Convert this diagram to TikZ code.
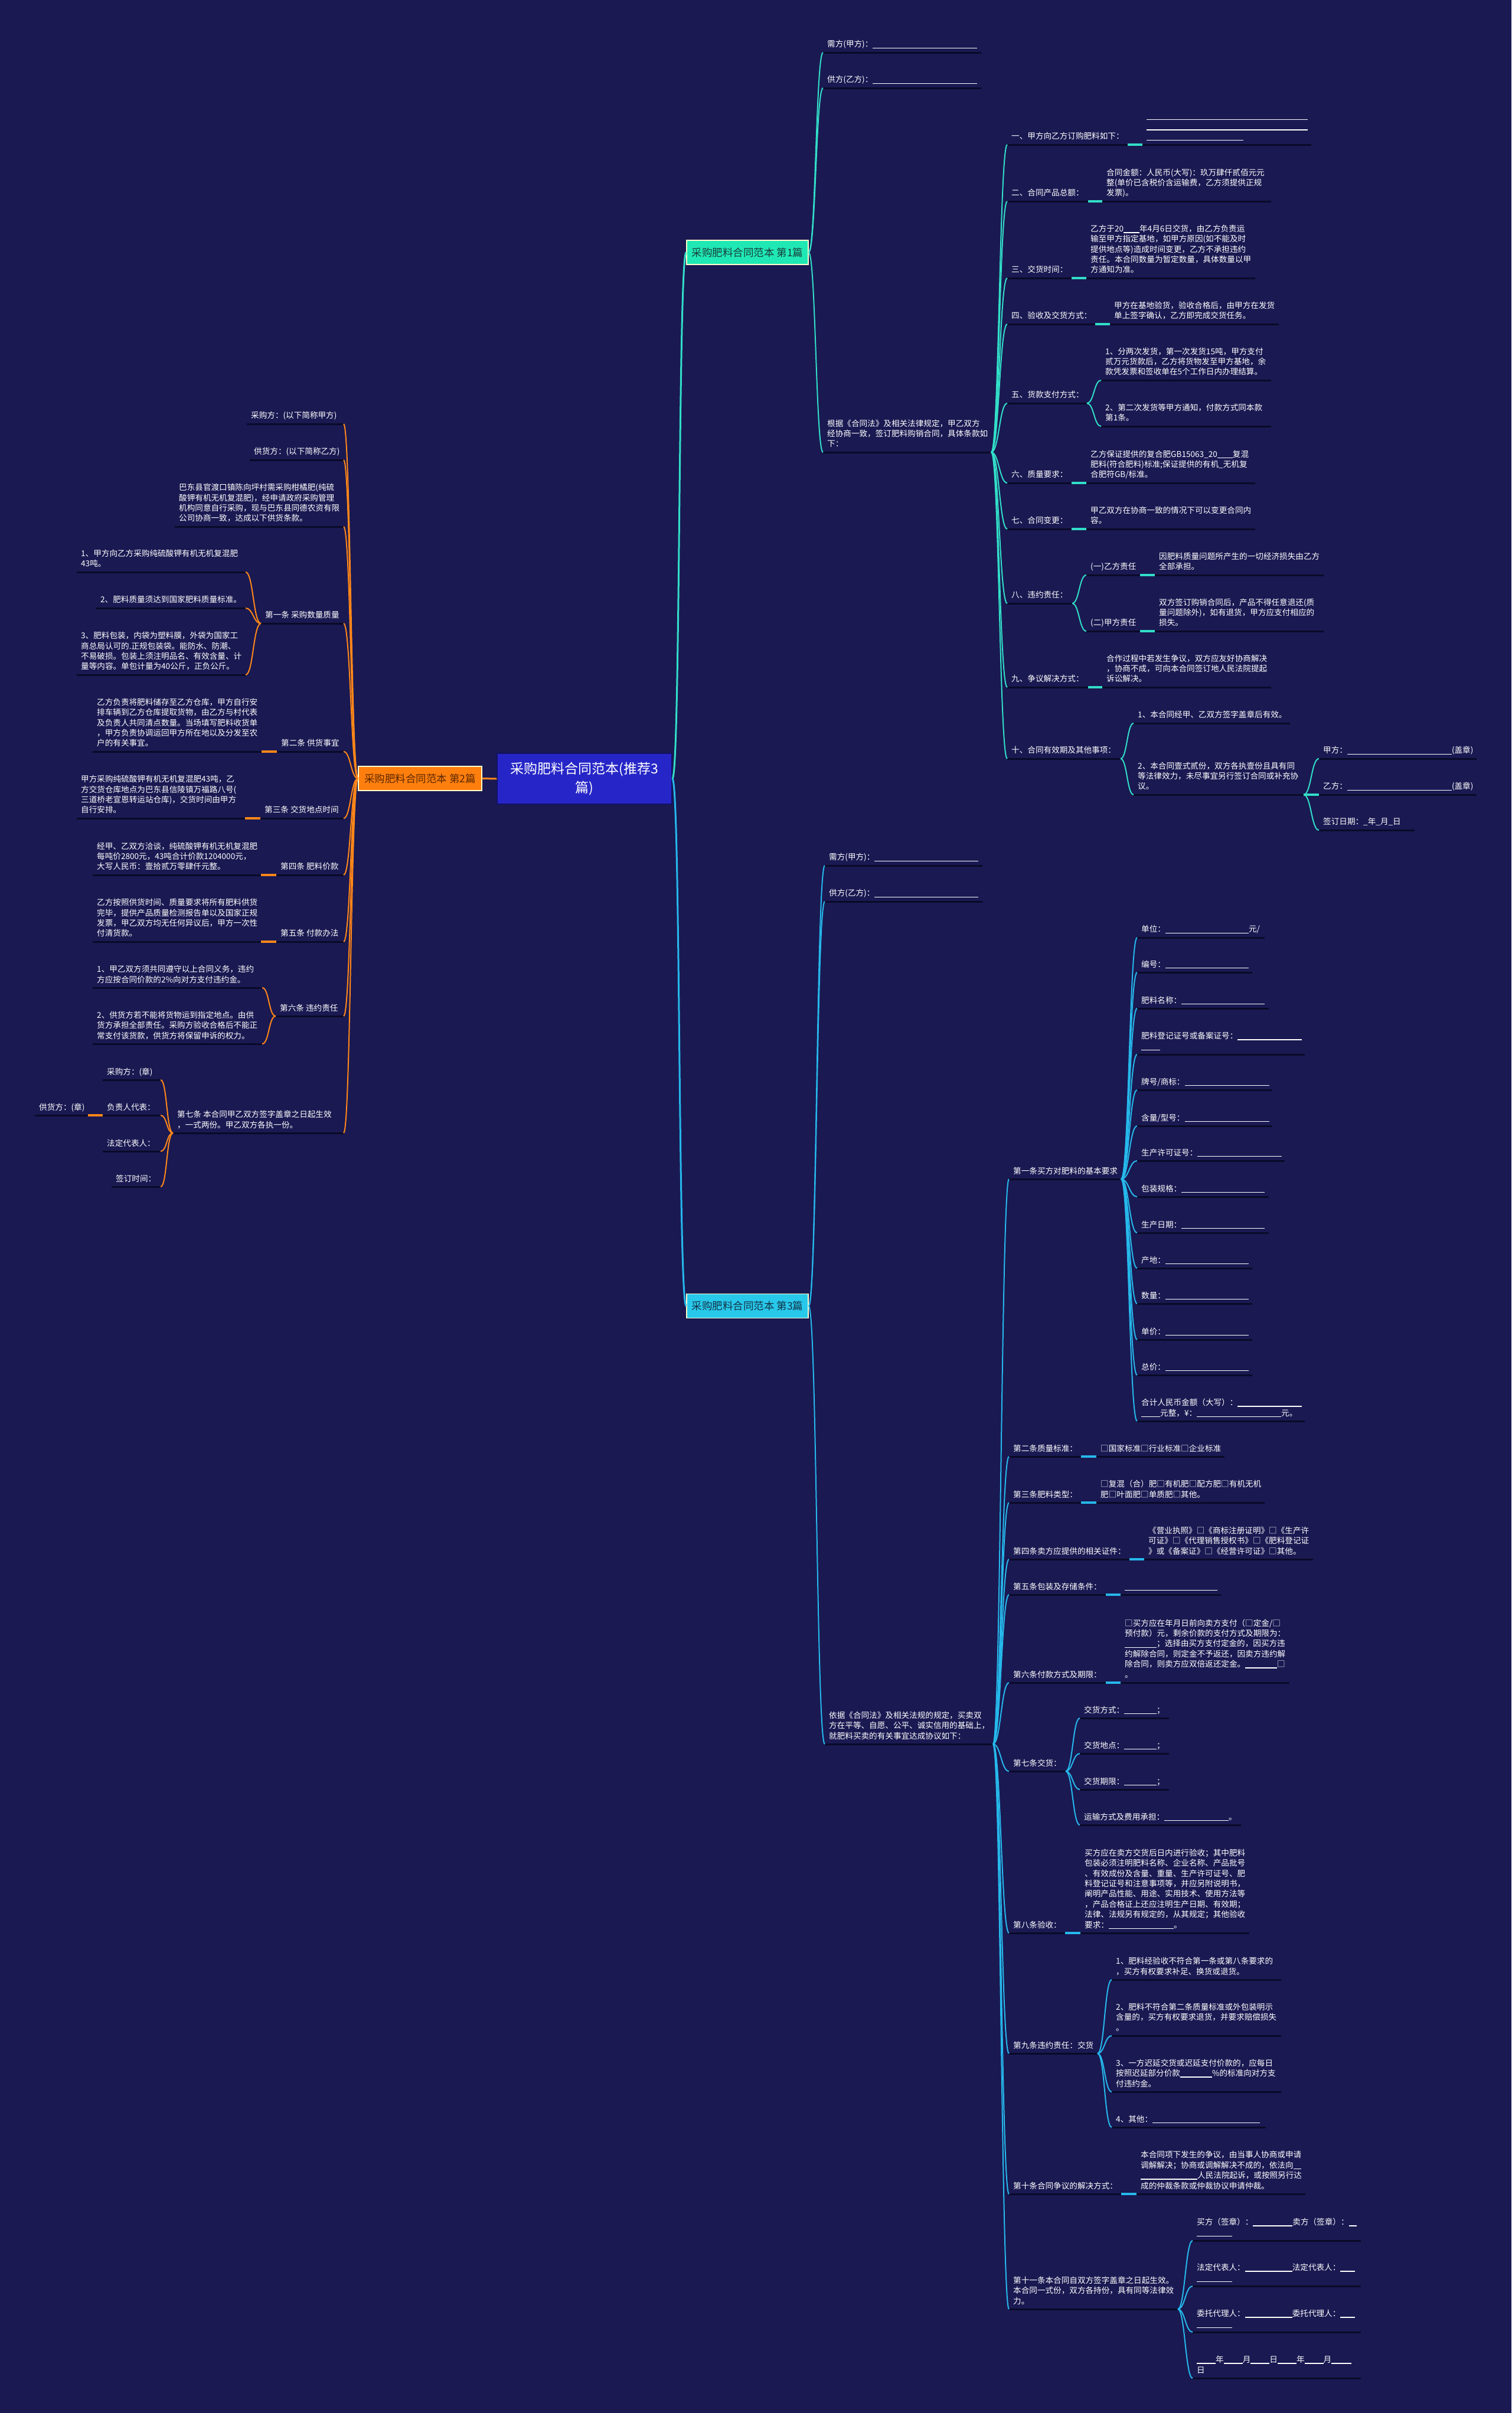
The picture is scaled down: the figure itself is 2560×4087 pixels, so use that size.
\documentclass[tikz,border=0pt]{standalone}
\usepackage{fontspec}
\setmainfont{Noto Sans CJK SC}
\usetikzlibrary{calc}
\definecolor{bgc}{RGB}{26,25,82}
\definecolor{rootc}{RGB}{38,38,200}
\definecolor{rootb}{RGB}{18,18,100}
\definecolor{c1fill}{RGB}{32,232,180}
\definecolor{c1line}{RGB}{50,222,200}
\definecolor{c2fill}{RGB}{255,127,14}
\definecolor{c2line}{RGB}{255,135,25}
\definecolor{c3fill}{RGB}{40,200,235}
\definecolor{c3line}{RGB}{38,184,235}
\definecolor{ulc}{RGB}{10,10,40}
\definecolor{c1text}{RGB}{25,60,60}
\definecolor{c2text}{RGB}{90,40,0}
\definecolor{c3text}{RGB}{20,50,70}
\newcommand\bl[1]{\rule[-2.2pt]{#1pt}{1.4pt}}
\newcommand\LNode[5]{%
  \draw[uline] (#2,#4) -- (#3,#4);
  \coordinate (#1-l) at (#2,#4);
  \coordinate (#1-r) at (#3,#4);
  \node[leaf,anchor=south west] (#1) at ({#2+7},{#4-3.6}) {#5};}
\newcommand\LConn[5]{\draw[#1] (#2) .. controls +(#4,0) and +(#5,0) .. (#3);}
\tikzset{
  leaf/.style={inner sep=0pt, align=left, text=white, font=\fontsize{13.6}{17.4}\selectfont, execute at end node=\strut},
  uline/.style={draw=ulc, line width=3pt},
  bbox/.style={draw=white!80!yellow, line width=1.2pt, minimum height=41pt, inner sep=0pt, font=\fontsize{17.5}{20}\selectfont},
  rootbox/.style={fill=rootc, draw=rootb, line width=1.5pt, minimum width=296pt, minimum height=86pt, inner sep=0pt, align=center, text=white, font=\fontsize{23}{32}\selectfont},
  m1/.style={draw=c1line, line width=3pt},
  m2/.style={draw=c2line, line width=3pt},
  m3/.style={draw=c3line, line width=3pt},
  l1/.style={draw=c1line, line width=2pt},
  l2/.style={draw=c2line, line width=2pt},
  l3/.style={draw=c3line, line width=2pt},
  t1/.style={draw=c1line, line width=3.5pt},
  t2/.style={draw=c2line, line width=3.5pt},
  t3/.style={draw=c3line, line width=3.5pt},
}
\begin{document}
\begin{tikzpicture}[x=1pt,y=-1pt]
\fill[bgc] (0,0) rectangle (2560,4087);
\useasboundingbox (0,0) rectangle (2560,4087);

% ---------- root and branch boxes ----------
\node[rootbox] (root) at (990,1319) {采购肥料合同范本(推荐3\\篇)};
\node[bbox, fill=c1fill, text=c1text, minimum width=206pt] (B1) at (1266,427.5) {采购肥料合同范本 第1篇};
\node[bbox, fill=c2fill, text=c2text, minimum width=209pt] (B2) at (711.5,1318.5) {采购肥料合同范本 第2篇};
\node[bbox, fill=c3fill, text=c3text, minimum width=206pt] (B3) at (1266,2212) {采购肥料合同范本 第3篇};

% ---------- branch 1 ----------
\LNode{a1}{1394}{1662}{89}{需方(甲方)：\bl{177}}
\LNode{a2}{1394}{1662}{149}{供方(乙方)：\bl{177}}
\LNode{a3}{1394}{1679}{766}{根据《合同法》及相关法律规定，甲乙双方\\经协商一致，签订肥料购销合同，具体条款如\\下：}
\LNode{a31}{1706}{1910}{245}{一、甲方向乙方订购肥料如下：}
\LNode{a31c}{1935}{2221}{245}{\bl{273}\\\bl{273}\\\bl{164}}
\LNode{a32}{1706}{1843}{341}{二、合同产品总额：}
\LNode{a32c}{1867}{2153}{341}{合同金额：人民币(大写)：玖万肆仟贰佰元元\\整(单价已含税价含运输费，乙方须提供正规\\发票)。}
\LNode{a33}{1706}{1815}{471}{三、交货时间：}
\LNode{a33c}{1840}{2126}{471}{乙方于20\bl{27}年4月6日交货，由乙方负责运\\输至甲方指定基地，如甲方原因(如不能及时\\提供地点等)造成时间变更，乙方不承担违约\\责任。本合同数量为暂定数量，具体数量以甲\\方通知为准。}
\LNode{a34}{1706}{1855}{549}{四、验收及交货方式：}
\LNode{a34c}{1880}{2166}{549}{甲方在基地验货，验收合格后，由甲方在发货\\单上签字确认，乙方即完成交货任务。}
\LNode{a35}{1706}{1841}{683}{五、货款支付方式：}
\LNode{a351}{1865}{2153}{644}{1、分两次发货，第一次发货15吨，甲方支付\\贰万元货款后，乙方将货物发至甲方基地，余\\款凭发票和签收单在5个工作日内办理结算。}
\LNode{a352}{1865}{2153}{722}{2、第二次发货等甲方通知，付款方式同本款\\第1条。}
\LNode{a36}{1706}{1815}{818}{六、质量要求：}
\LNode{a36c}{1840}{2126}{818}{乙方保证提供的复合肥GB15063\_20\bl{26}复混\\肥料(符合肥料)标准;保证提供的有机\_无机复\\合肥符GB/标准。}
\LNode{a37}{1706}{1815}{896}{七、合同变更：}
\LNode{a37c}{1840}{2126}{896}{甲乙双方在协商一致的情况下可以变更合同内\\容。}
\LNode{a38}{1706}{1816}{1022}{八、违约责任：}
\LNode{a381}{1840}{1931}{974}{(一)乙方责任}
\LNode{a381c}{1956}{2242}{974}{因肥料质量问题所产生的一切经济损失由乙方\\全部承担。}
\LNode{a382}{1840}{1931}{1069}{(二)甲方责任}
\LNode{a382c}{1956}{2242}{1069}{双方签订购销合同后，产品不得任意退还(质\\量问题除外)，如有退货，甲方应支付相应的\\损失。}
\LNode{a39}{1706}{1843}{1164}{九、争议解决方式：}
\LNode{a39c}{1867}{2153}{1164}{合作过程中若发生争议，双方应友好协商解决\\，协商不成，可向本合同签订地人民法院提起\\诉讼解决。}
\LNode{a310}{1706}{1898}{1285}{十、合同有效期及其他事项：}
\LNode{a3101}{1920}{2185}{1225}{1、本合同经甲、乙双方签字盖章后有效。}
\LNode{a3102}{1920}{2208}{1346}{2、本合同壹式贰份，双方各执壹份且具有同\\等法律效力，未尽事宜另行签订合同或补充协\\议。}
\LNode{a31021}{2234}{2501}{1285}{甲方：\bl{177}(盖章)}
\LNode{a31022}{2234}{2501}{1346}{乙方：\bl{177}(盖章)}
\LNode{a31023}{2234}{2396}{1406}{签订日期：\_年\_月\_日}

% ---------- branch 2 ----------
\LNode{b1}{418}{582}{718}{采购方：(以下简称甲方)}
\LNode{b2}{423}{582}{779}{供货方：(以下简称乙方)}
\LNode{b3}{296}{582}{892}{巴东县官渡口镇陈向坪村需采购柑橘肥(纯硫\\酸钾有机无机复混肥)，经申请政府采购管理\\机构同意自行采购，现与巴东县同德农资有限\\公司协商一致，达成以下供货条款。}
\LNode{b4}{442}{582}{1056}{第一条 采购数量质量}
\LNode{b41}{130}{416}{969}{1、甲方向乙方采购纯硫酸钾有机无机复混肥\\43吨。}
\LNode{b42}{163}{416}{1030}{2、肥料质量须达到国家肥料质量标准。}
\LNode{b43}{130}{416}{1143}{3、肥料包装，内袋为塑料膜，外袋为国家工\\商总局认可的.正规包装袋。能防水、防潮、\\不易破损。包装上须注明品名、有效含量、计\\量等内容。单包计量为40公斤，正负公斤。}
\LNode{b5}{469}{582}{1273}{第二条 供货事宜}
\LNode{b5c}{157}{443}{1273}{乙方负责将肥料储存至乙方仓库，甲方自行安\\排车辆到乙方仓库提取货物，由乙方与村代表\\及负责人共同清点数量。当场填写肥料收货单\\，甲方负责协调运回甲方所在地以及分发至农\\户的有关事宜。}
\LNode{b6}{441}{582}{1386}{第三条 交货地点时间}
\LNode{b6c}{130}{415}{1386}{甲方采购纯硫酸钾有机无机复混肥43吨，乙\\方交货仓库地点为巴东县信陵镇万福路八号(\\三道桥老宣恩转运站仓库)，交货时间由甲方\\自行安排。}
\LNode{b7}{468}{582}{1482}{第四条 肥料价款}
\LNode{b7c}{157}{442}{1482}{经甲、乙双方洽谈，纯硫酸钾有机无机复混肥\\每吨价2800元，43吨合计价款1204000元，\\大写人民币：壹拾贰万零肆仟元整。}
\LNode{b8}{468}{582}{1595}{第五条 付款办法}
\LNode{b8c}{157}{442}{1595}{乙方按照供货时间、质量要求将所有肥料供货\\完毕，提供产品质量检测报告单以及国家正规\\发票，甲乙双方均无任何异议后，甲方一次性\\付清货款。}
\LNode{b9}{467}{582}{1721}{第六条 违约责任}
\LNode{b91}{157}{444}{1673}{1、甲乙双方须共同遵守以上合同义务，违约\\方应按合同价款的2\%向对方支付违约金。}
\LNode{b92}{157}{444}{1768}{2、供货方若不能将货物运到指定地点。由供\\货方承担全部责任。采购方验收合格后不能正\\常支付该货款，供货方将保留申诉的权力。}
\LNode{b10}{293}{582}{1919}{第七条 本合同甲乙双方签字盖章之日起生效\\，一式两份。甲乙双方各执一份。}
\LNode{b101}{174}{272}{1829}{采购方：(章)}
\LNode{b102}{174}{272}{1889}{负责人代表：}
\LNode{b102c}{59}{149}{1889}{供货方：(章)}
\LNode{b103}{174}{272}{1950}{法定代表人：}
\LNode{b104}{189}{272}{2010}{签订时间：}

% ---------- branch 3 ----------
\LNode{c1}{1397}{1664}{1466}{需方(甲方)：\bl{176}}
\LNode{c2}{1397}{1664}{1527}{供方(乙方)：\bl{176}}
\LNode{c3}{1397}{1682}{2954}{依据《合同法》及相关法规的规定，买卖双\\方在平等、自愿、公平、诚实信用的基础上，\\就肥料买卖的有关事宜达成协议如下：}
\LNode{k1}{1709}{1899}{1997}{第一条买方对肥料的基本要求}
\LNode{d1}{1926}{2142}{1588}{单位：\bl{141}元/}
\LNode{d2}{1926}{2121}{1647}{编号：\bl{141}}
\LNode{d3}{1926}{2149}{1708}{肥料名称：\bl{141}}
\LNode{d4}{1926}{2210}{1786}{肥料登记证号或备案证号：\bl{109}\\\bl{32}}
\LNode{d5}{1926}{2155}{1846}{牌号/商标：\bl{143}}
\LNode{d6}{1926}{2155}{1907}{含量/型号：\bl{143}}
\LNode{d7}{1926}{2176}{1966}{生产许可证号：\bl{143}}
\LNode{d8}{1926}{2149}{2027}{包装规格：\bl{141}}
\LNode{d9}{1926}{2149}{2088}{生产日期：\bl{141}}
\LNode{d10}{1926}{2121}{2148}{产地：\bl{141}}
\LNode{d11}{1926}{2121}{2208}{数量：\bl{141}}
\LNode{d12}{1926}{2121}{2269}{单价：\bl{141}}
\LNode{d13}{1926}{2121}{2329}{总价：\bl{141}}
\LNode{d14}{1926}{2210}{2407}{合计人民币金额（大写）：\bl{109}\\\bl{32}元整，¥：\bl{143}元。}
\LNode{k2}{1709}{1831}{2467}{第二条质量标准：}
\LNode{k2c}{1857}{2074}{2467}{□国家标准□行业标准□企业标准}
\LNode{k3}{1709}{1831}{2545}{第三条肥料类型：}
\LNode{k3c}{1857}{2142}{2545}{□复混（合）肥□有机肥□配方肥□有机无机\\肥□叶面肥□单质肥□其他。}
\LNode{k4}{1709}{1913}{2641}{第四条卖方应提供的相关证件：}
\LNode{k4c}{1938}{2224}{2641}{《营业执照》□《商标注册证明》□《生产许\\可证》□《代理销售授权书》□《肥料登记证\\》或《备案证》□《经营许可证》□其他。}
\LNode{k5}{1709}{1873}{2701}{第五条包装及存储条件：}
\LNode{k5c}{1898}{2068}{2701}{\bl{157}}
\LNode{k6}{1709}{1873}{2850}{第六条付款方式及期限：}
\LNode{k6c}{1898}{2184}{2850}{□买方应在年月日前向卖方支付（□定金/□\\预付款）元，剩余价款的支付方式及期限为：\\\bl{54}；选择由买方支付定金的，因买方违\\约解除合同，则定金不予返还，因卖方违约解\\除合同，则卖方应双倍返还定金。\bl{54}□\\。}
\LNode{k7}{1709}{1805}{3000}{第七条交货：}
\LNode{e1}{1829}{1980}{2910}{交货方式：\bl{55}；}
\LNode{e2}{1829}{1980}{2970}{交货地点：\bl{55}；}
\LNode{e3}{1829}{1980}{3031}{交货期限：\bl{55}；}
\LNode{e4}{1829}{2102}{3091}{运输方式及费用承担：\bl{109}。}
\LNode{k8}{1709}{1804}{3274}{第八条验收：}
\LNode{k8c}{1830}{2116}{3274}{买方应在卖方交货后日内进行验收；其中肥料\\包装必须注明肥料名称、企业名称、产品批号\\、有效成份及含量、重量、生产许可证号、肥\\料登记证号和注意事项等，并应另附说明书，\\阐明产品性能、用途、实用技术、使用方法等\\，产品合格证上还应注明生产日期、有效期；\\法律、法规另有规定的，从其规定；其他验收\\要求：\bl{110}。}
\LNode{k9}{1709}{1859}{3478}{第九条违约责任：交货}
\LNode{f1}{1883}{2170}{3353}{1、肥料经验收不符合第一条或第八条要求的\\，买方有权要求补足、换货或退货。}
\LNode{f2}{1883}{2170}{3448}{2、肥料不符合第二条质量标准或外包装明示\\含量的，买方有权要求退货，并要求赔偿损失\\。}
\LNode{f3}{1883}{2170}{3543}{3、一方迟延交货或迟延支付价款的，应每日\\按照迟延部分价款\bl{54}\%的标准向对方支\\付违约金。}
\LNode{f4}{1883}{2144}{3603}{4、其他：\bl{182}}
\LNode{k10}{1709}{1899}{3716}{第十条合同争议的解决方式：}
\LNode{k10c}{1925}{2211}{3716}{本合同项下发生的争议，由当事人协商或申请\\调解解决；协商或调解解决不成的，依法向\bl{13}\\\bl{96}人民法院起诉，或按照另行达\\成的仲裁条款或仲裁协议申请仲裁。}
\LNode{k11}{1709}{1995}{3911}{第十一条本合同自双方签字盖章之日起生效。\\本合同一式份，双方各持份，具有同等法律效\\力。}
\LNode{g1}{2020}{2305}{3795}{买方（签章）：\bl{67}卖方（签章）：\bl{13}\\\bl{60}}
\LNode{g2}{2020}{2305}{3872}{法定代表人：\bl{80}法定代表人：\bl{25}\\\bl{60}}
\LNode{g3}{2020}{2305}{3950}{委托代理人：\bl{80}委托代理人：\bl{25}\\\bl{60}}
\LNode{g4}{2020}{2305}{4028}{\bl{32}年\bl{32}月\bl{32}日\bl{32}年\bl{32}月\bl{34}\\日}

% ---------- main connectors ----------
\draw[m2] (root.west) -- (B2.east);
\LConn{m1}{root.east}{B1.west}{14}{-14}
\LConn{m3}{root.east}{B3.west}{14}{-14}

% ---------- branch 1 connectors ----------
\foreach \n in {a1,a2,a3} {\LConn{l1}{B1.east}{\n-l}{12}{-12}}
\foreach \n in {a31,a32,a33,a34,a35,a36,a37,a38,a39,a310} {\LConn{l1}{a3-r}{\n-l}{13}{-13}}
\foreach \n in {a31,a32,a33,a34,a36,a37,a39,a381,a382} {\draw[t1] (\n-r) -- (\n c-l);}
\foreach \n in {a351,a352} {\LConn{l1}{a35-r}{\n-l}{12}{-12}}
\foreach \n in {a381,a382} {\LConn{l1}{a38-r}{\n-l}{12}{-12}}
\foreach \n in {a3101,a3102} {\LConn{l1}{a310-r}{\n-l}{11}{-11}}
\foreach \n in {a31021,a31023} {\LConn{l1}{a3102-r}{\n-l}{13}{-13}}
\draw[t1] (a3102-r) -- (a31022-l);

% ---------- branch 2 connectors ----------
\foreach \n in {b1,b2,b3,b4,b5,b6,b7,b8,b9,b10} {\LConn{l2}{B2.west}{\n-r}{-12}{12}}
\foreach \n in {b41,b42,b43} {\LConn{l2}{b4-l}{\n-r}{-13}{13}}
\foreach \n in {b5,b6,b7,b8,b102} {\draw[t2] (\n-l) -- (\n c-r);}
\foreach \n in {b91,b92} {\LConn{l2}{b9-l}{\n-r}{-12}{12}}
\foreach \n in {b101,b102,b103,b104} {\LConn{l2}{b10-l}{\n-r}{-11}{11}}

% ---------- branch 3 connectors ----------
\foreach \n in {c1,c2,c3} {\LConn{l3}{B3.east}{\n-l}{14}{-14}}
\foreach \n in {k1,k2,k3,k4,k5,k6,k7,k8,k9,k10,k11} {\LConn{l3}{c3-r}{\n-l}{13}{-13}}
\foreach \n in {d1,d2,d3,d4,d5,d6,d7,d8,d9,d10,d11,d12,d13,d14} {\LConn{l3}{k1-r}{\n-l}{13}{-13}}
\foreach \n in {k2,k3,k4,k5,k6,k8,k10} {\draw[t3] (\n-r) -- (\n c-l);}
\foreach \n in {e1,e2,e3,e4} {\LConn{l3}{k7-r}{\n-l}{12}{-12}}
\foreach \n in {f1,f2,f3,f4} {\LConn{l3}{k9-r}{\n-l}{12}{-12}}
\foreach \n in {g1,g2,g3,g4} {\LConn{l3}{k11-r}{\n-l}{12}{-12}}
\end{tikzpicture}
\end{document}
